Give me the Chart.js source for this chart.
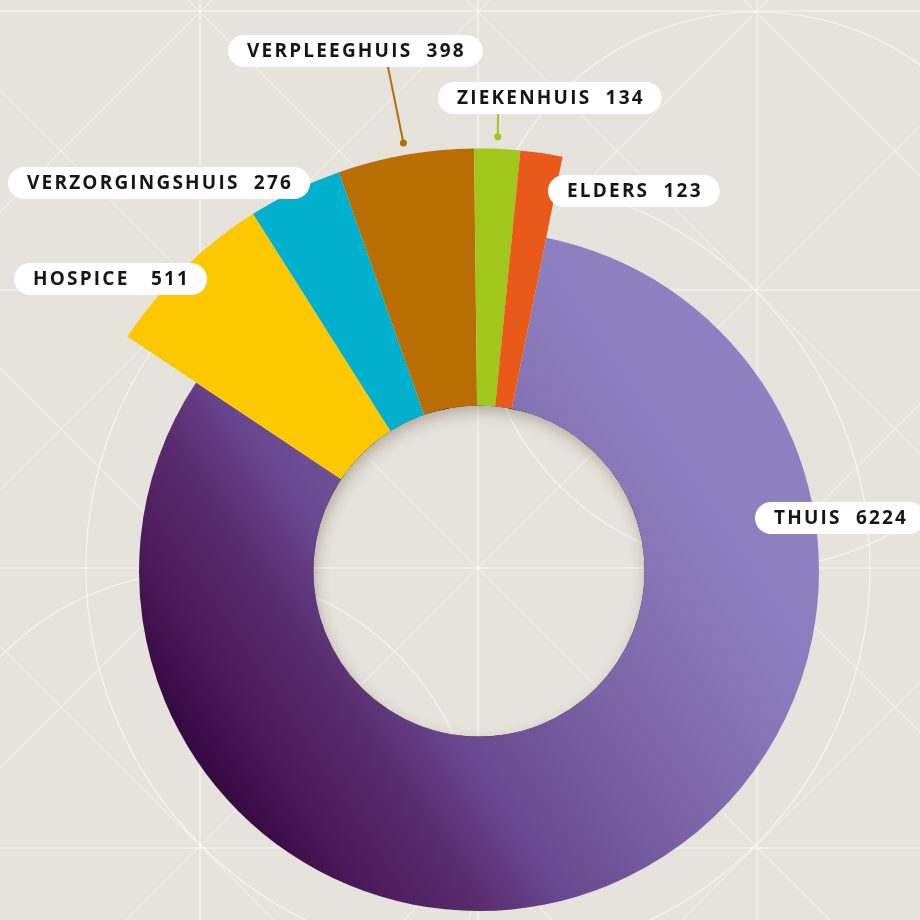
<!DOCTYPE html>
<html><head><meta charset="utf-8">
<script src="https://cdn.jsdelivr.net/npm/chart.js@4.4.1/dist/chart.umd.min.js"></script>
<style>html,body{margin:0;padding:0;background:#e6e3dc;}#wrap{width:920px;height:920px;}</style>
</head><body><div id="wrap"><canvas id="c" width="920" height="920"></canvas></div>
<script>
// ---- data ----
const categories = ['THUIS', 'HOSPICE', 'VERZORGINGSHUIS', 'VERPLEEGHUIS', 'ZIEKENHUIS', 'ELDERS'];
const values = [6224, 511, 276, 398, 134, 123];
const sliceColors = ['#8a7cbf', '#fdc800', '#00b0cc', '#b96e04', '#a1c71d', '#e9591a'];
const gaps = ['  ', '   ', '  ', '  ', '  ', '  '];

// ---- label placement (pill left x, pill centre y, optional leader top x) ----
const labelPos = [
  {x: 755, cy: 518},
  {x: 14, cy: 279},
  {x: 8, cy: 183},
  {x: 228, cy: 51, leader: 388},
  {x: 438, cy: 98, leader: 498},
  {x: 548, cy: 191}
];

function thuisGradient(chart) {
  const g = chart.ctx.createLinearGradient(270, 855, 778, 517);
  g.addColorStop(0, '#380a43');
  g.addColorStop(0.1, '#4b1a5b');
  g.addColorStop(0.25, '#5a2d70');
  g.addColorStop(0.36, '#684890');
  g.addColorStop(0.6, '#7b64a6');
  g.addColorStop(0.85, '#8a7bbd');
  g.addColorStop(1, '#8d81c2');
  return g;
}

const bgPlugin = {
  id: 'bg',
  beforeDraw(chart) {
    const ctx = chart.ctx;
    ctx.save();
    ctx.fillStyle = '#e6e3dc';
    ctx.fillRect(0, 0, 920, 920);
    ctx.strokeStyle = 'rgba(255,255,255,0.75)';
    ctx.lineWidth = 1.1;
    const xs = [200, 478, 757];
    const ys = [11, 290, 568, 848];
    xs.forEach(x => { ctx.beginPath(); ctx.moveTo(x, 0); ctx.lineTo(x, 920); ctx.stroke(); });
    ys.forEach(y => { ctx.beginPath(); ctx.moveTo(0, y); ctx.lineTo(920, y); ctx.stroke(); });
    ctx.strokeStyle = 'rgba(255,255,255,0.45)';
    for (let k = -4; k <= 6; k++) {
      const c1 = -188 + 278 * k;
      ctx.beginPath(); ctx.moveTo(-50, -50 + c1); ctx.lineTo(970, 970 + c1); ctx.stroke();
      const c2 = 212 + 278 * k;
      ctx.beginPath(); ctx.moveTo(-50, 50 + c2); ctx.lineTo(970, -970 + c2); ctx.stroke();
    }
    ctx.strokeStyle = 'rgba(255,255,255,0.65)';
    [[478, 568, 392], [757, 290, 278], [200, 850, 278]].forEach(([x, y, r]) => {
      ctx.beginPath(); ctx.arc(x, y, r, 0, Math.PI * 2); ctx.stroke();
    });
    ctx.restore();
  }
};

const explodePlugin = {
  id: 'explode',
  beforeDatasetsDraw(chart) {
    const meta = chart.getDatasetMeta(0);
    const base = meta.data[0].outerRadius;
    meta.data.forEach((arc, i) => {
      if (i > 0) arc.outerRadius = base * 1.243;
    });
  }
};

const labelPlugin = {
  id: 'pills',
  afterDatasetsDraw(chart) {
    const ctx = chart.ctx;
    const meta = chart.getDatasetMeta(0);
    const a0 = meta.data[0];
    // inner shadow in the hole
    ctx.save();
    ctx.beginPath(); ctx.arc(a0.x, a0.y, a0.innerRadius, 0, Math.PI * 2); ctx.clip();
    ctx.shadowColor = 'rgba(70,50,30,0.3)';
    ctx.shadowBlur = 14; ctx.shadowOffsetX = 2; ctx.shadowOffsetY = 6;
    ctx.beginPath(); ctx.arc(a0.x, a0.y, a0.innerRadius + 30, 0, Math.PI * 2);
    ctx.lineWidth = 60; ctx.strokeStyle = '#000'; ctx.stroke();
    ctx.restore();

    ctx.save();
    ctx.font = '700 19px "Open Sans", sans-serif';
    ctx.letterSpacing = '2.2px';
    ctx.textBaseline = 'middle';
    categories.forEach((name, i) => {
      const p = labelPos[i];
      const text = name + gaps[i] + values[i];
      const w = ctx.measureText(text).width;
      const h = 32, pad = 19;
      const pw = w + pad * 2 - 2;
      // leader line
      if (p.leader !== undefined) {
        const arc = meta.data[i];
        const mid = (arc.startAngle + arc.endAngle) / 2;
        const r = arc.outerRadius + 12;
        const dx = arc.x + Math.cos(mid) * r, dy = arc.y + Math.sin(mid) * r;
        ctx.strokeStyle = sliceColors[i]; ctx.lineWidth = 2;
        ctx.beginPath(); ctx.moveTo(p.leader, p.cy + h / 2); ctx.lineTo(dx, dy); ctx.stroke();
        ctx.fillStyle = sliceColors[i];
        ctx.beginPath(); ctx.arc(dx, dy, 3.5, 0, Math.PI * 2); ctx.fill();
      }
      ctx.fillStyle = '#ffffff';
      ctx.beginPath();
      ctx.roundRect(p.x, p.cy - h / 2, pw, h, h / 2);
      ctx.fill();
      ctx.fillStyle = '#161616';
      ctx.fillText(text, p.x + pad, p.cy + 1);
    });
    ctx.restore();
  }
};

new Chart(document.getElementById('c'), {
  type: 'doughnut',
  data: {
    labels: categories,
    datasets: [{
      data: values,
      backgroundColor: (c) => c.dataIndex === 0 ? thuisGradient(c.chart) : sliceColors[c.dataIndex],
      borderWidth: 0
    }]
  },
  options: {
    responsive: false,
    animation: false,
    events: [],
    rotation: 11.4,
    radius: 340,
    cutout: 170,
    layout: {padding: {left: 38, right: 0, top: 222, bottom: 0}},
    plugins: {legend: {display: false}, tooltip: {enabled: false}}
  },
  plugins: [bgPlugin, explodePlugin, labelPlugin]
});
</script></body></html>
